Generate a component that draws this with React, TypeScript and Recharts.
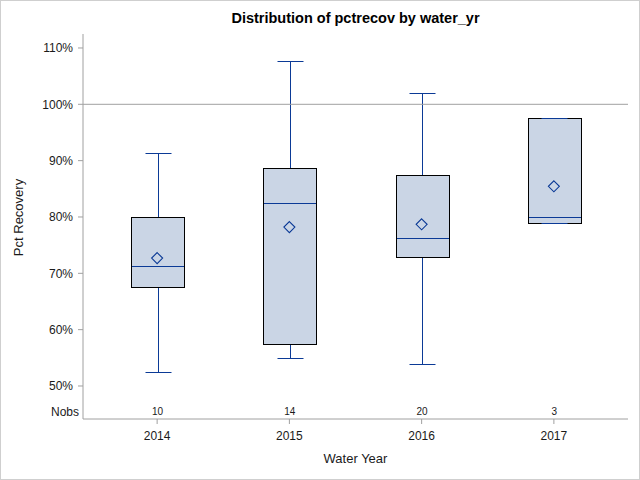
import React from 'react'
import { ComposedChart, Bar, Scatter, XAxis, YAxis, ReferenceLine, LabelList } from 'recharts'

const years = ['2014', '2015', '2016', '2017']
const mins = [52.4, 54.9, 53.85, 78.9]
const q1s = [67.5, 57.45, 72.85, 78.9]
const medians = [71.25, 82.4, 76.2, 79.95]
const q3s = [80.0, 88.75, 87.4, 97.5]
const maxes = [91.3, 107.6, 101.95, 97.5]
const means = [72.7, 78.2, 78.7, 85.45]
const nobs = [10, 14, 20, 3]
const yTicks = [50, 60, 70, 80, 90, 100, 110]

const rows = years.map((year, i) => ({
  year,
  range: [mins[i], maxes[i]],
  min: mins[i],
  q1: q1s[i],
  median: medians[i],
  q3: q3s[i],
  max: maxes[i],
  mean: means[i],
  n: nobs[i],
}))

const FONT = '"Liberation Sans", Arial, sans-serif'
const BLUE = '#0b3a96'
const FILL = '#cad5e5'
const AXIS = '#a0a0a0'
const TEXT = '#1a1a1a'
const CAP = 26

function BoxShape(props: any) {
  const { x, y, width, height } = props
  const d = props.payload ?? props
  if (height == null || !d) return null
  // range bar spans min..max; place the quartiles inside it
  const toY = (v: number) => y + ((d.max - v) / (d.max - d.min || 1)) * height
  const cx = Math.round(x + width / 2) + 0.5
  const left = Math.round(x) + 0.5
  const right = Math.round(x + width) + 0.5
  const yMax = Math.round(toY(d.max)) + 0.5
  const yMin = Math.round(toY(d.min)) + 0.5
  const yQ1 = Math.round(toY(d.q1)) + 0.5
  const yQ3 = Math.round(toY(d.q3)) + 0.5
  const yMed = Math.round(toY(d.median)) + 0.5
  return (
    <g>
      <line x1={cx} x2={cx} y1={yMax} y2={yQ3} stroke={BLUE} />
      <line x1={cx} x2={cx} y1={yQ1} y2={yMin} stroke={BLUE} />
      <rect x={left} y={yQ3} width={right - left} height={yQ1 - yQ3} fill={FILL} stroke="#000" />
      <line x1={left + 0.5} x2={right - 0.5} y1={yMed} y2={yMed} stroke={BLUE} />
      <line x1={cx - CAP / 2} x2={cx + CAP / 2} y1={yMax} y2={yMax} stroke={BLUE} />
      <line x1={cx - CAP / 2} x2={cx + CAP / 2} y1={yMin} y2={yMin} stroke={BLUE} />
    </g>
  )
}

function Diamond(props: any) {
  const { cx, cy } = props
  if (cx == null || cy == null) return null
  const r = 5.5
  return (
    <path
      d={`M${cx},${cy - r} L${cx + r},${cy} L${cx},${cy + r} L${cx - r},${cy} Z`}
      fill="none"
      stroke={BLUE}
      strokeWidth={1.1}
    />
  )
}

function renderNobs(props: any) {
  const vb = props.viewBox ?? props
  if (vb == null || vb.x == null) return null
  return (
    <text x={vb.x + vb.width / 2} y={414} textAnchor="middle" fontSize={10} fontFamily={FONT} fill={TEXT}>
      {props.value}
    </text>
  )
}

function renderAnnotations() {
  return (
    <g fontFamily={FONT}>
      <text x={354.5} y={22} textAnchor="middle" fontSize={14.5} fontWeight="bold" fill="#000">
        Distribution of pctrecov by water_yr
      </text>
      <text
        x={22}
        y={216.5}
        transform="rotate(-90 22 216.5)"
        textAnchor="middle"
        fontSize={13}
        fill={TEXT}
      >
        Pct Recovery
      </text>
      <text x={78} y={414.5} textAnchor="end" fontSize={12} fill={TEXT}>
        Nobs
      </text>
      <text x={354.5} y={461.5} textAnchor="middle" fontSize={13} fill={TEXT}>
        Water Year
      </text>
    </g>
  )
}

export default function App() {
  return (
    <div
      style={{
        position: 'absolute',
        left: 0,
        top: 0,
        width: 640,
        height: 480,
        boxSizing: 'border-box',
        border: '1px solid #cfcfcf',
        background: '#fff',
      }}
    >
      <ComposedChart
        width={638}
        height={478}
        data={rows}
        margin={{ top: 33, right: 11, bottom: 0, left: 0 }}
        style={{ fontFamily: FONT }}
      >
        <XAxis
          xAxisId="x"
          dataKey="year"
          type="category"
          height={60}
          padding={{ left: 8, right: 8 }}
          axisLine={{ stroke: AXIS }}
          tickLine={{ stroke: AXIS }}
          tickSize={5}
          tickMargin={7}
          tick={{ fill: TEXT, fontSize: 12, fontFamily: FONT }}
        />
        <XAxis
          xAxisId="top"
          dataKey="year"
          orientation="top"
          height={0}
          axisLine={{ stroke: AXIS }}
          tick={false}
          tickLine={false}
        />
        <YAxis
          yAxisId="y"
          type="number"
          domain={[44.14, 112.48]}
          ticks={yTicks}
          allowDataOverflow
          width={82}
          axisLine={{ stroke: AXIS }}
          tickLine={{ stroke: AXIS }}
          tickSize={5}
          tickMargin={5}
          tick={{ fill: TEXT, fontSize: 12, fontFamily: FONT }}
          tickFormatter={(v: number) => `${v}%`}
          label={renderAnnotations}
        />
        <YAxis
          yAxisId="right"
          orientation="right"
          type="number"
          domain={[44.14, 112.48]}
          width={0}
          axisLine={{ stroke: AXIS }}
          tick={false}
          tickLine={false}
        />
        <ReferenceLine xAxisId="x" yAxisId="y" y={100} stroke={AXIS} strokeWidth={1} />
        <Bar
          xAxisId="x"
          yAxisId="y"
          dataKey="range"
          barSize={53}
          shape={BoxShape}
          isAnimationActive={false}
        >
          <LabelList dataKey="n" content={renderNobs} />
        </Bar>
        <Scatter
          xAxisId="x"
          yAxisId="y"
          dataKey="mean"
          shape={Diamond}
          isAnimationActive={false}
        />
      </ComposedChart>
    </div>
  )
}
